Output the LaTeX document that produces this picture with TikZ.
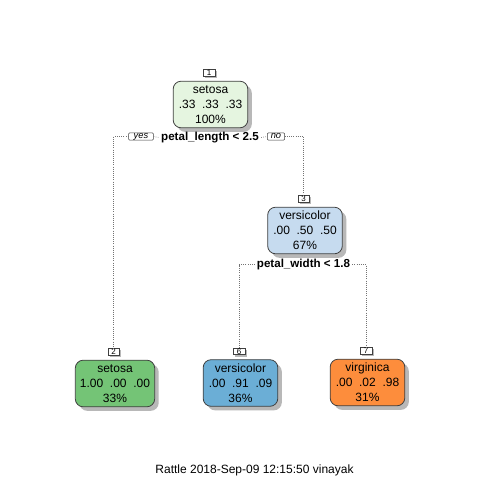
\documentclass[tikz,border=0pt]{standalone}
\usepackage{fontspec}
\setmainfont{Liberation Sans}
\usetikzlibrary{shadows}
\definecolor{rootgreen}{HTML}{E5F5E0}
\definecolor{innerblue}{HTML}{C6DBEF}
\definecolor{leafgreen}{HTML}{74C476}
\definecolor{leafblue}{HTML}{6BAED6}
\definecolor{leaforange}{HTML}{FD8D3C}

\begin{document}
\begin{tikzpicture}[x=0.75pt,y=-0.75pt,
treebox/.style={draw=black!75, line width=0.6pt, rounded corners=6pt, align=center,
  minimum width=56pt, minimum height=35pt, inner xsep=3.5pt, inner ysep=0pt,
  font=\fontsize{9}{11.25}\selectfont,
  drop shadow={shadow xshift=3pt,shadow yshift=-3pt,fill=black!28,opacity=1}},
numbox/.style={draw=black!75, fill=white, line width=0.4pt, inner sep=0pt,
  minimum width=8.5pt, minimum height=5pt, font=\fontsize{6}{6}\selectfont,
  drop shadow={shadow xshift=1.5pt,shadow yshift=-1.5pt,fill=black!28,opacity=1}},
splittext/.style={font=\fontsize{8.7}{9}\selectfont\bfseries, inner sep=1.5pt},
yesno/.style={draw=black!75, fill=white, line width=0.4pt, rounded corners=0.8pt, inner sep=0pt,
  minimum height=5.5pt, font=\fontsize{7}{7}\selectfont\itshape},
branch/.style={black!55, line width=0.5pt, dash pattern=on 0.5pt off 1.1pt}]
\useasboundingbox[fill=white] (0,0) rectangle (480,480);

%inner nodes
\node[treebox, fill=rootgreen] (n1) at (210.5,104.5) {setosa\\.33~~.33~~.33\\100\%};
\node[treebox, fill=innerblue] (n3) at (305,230.5) {versicolor\\.00~~.50~~.50\\67\%};
%leaves
\node[treebox, fill=leafgreen] (n2) at (115,383.5) {setosa\\1.00~~.00~~.00\\33\%};
\node[treebox, fill=leafblue] (n6) at (240.5,383) {versicolor\\.00~~.91~~.09\\36\%};
\node[treebox, fill=leaforange] (n7) at (367.5,382.5) {virginica\\.00~~.02~~.98\\31\%};

%node numbers just above every box
\foreach \x in {1,2,3,6,7}
  \node[numbox] (lab\x) at ([xshift=-1pt,yshift=6pt]n\x.north) {\x};

%split rules
\node[splittext] (s1) at (210,137.5) {petal\_length < 2.5};
\node[yesno, minimum width=18.5pt] (yes) at (141,136.5) {yes};
\node[yesno, minimum width=13pt] (no) at (276,136.5) {no};
\node[splittext] (s3) at (303.5,264.5) {petal\_width < 1.8};

%branches
\draw[branch] (yes.west) -| (lab2.north);
\draw[branch] (yes.east) -- (s1.west);
\draw[branch] (s1.east) -- (no.west);
\draw[branch] (no.east) -| (lab3.north);
\draw[branch] (s3.west) -| (lab6.north);
\draw[branch] (s3.east) -| (lab7.north);

\node[font=\fontsize{9}{9}\selectfont] (footer) at (254.5,470) {Rattle 2018-Sep-09 12:15:50 vinayak};
\end{tikzpicture}
\end{document}
